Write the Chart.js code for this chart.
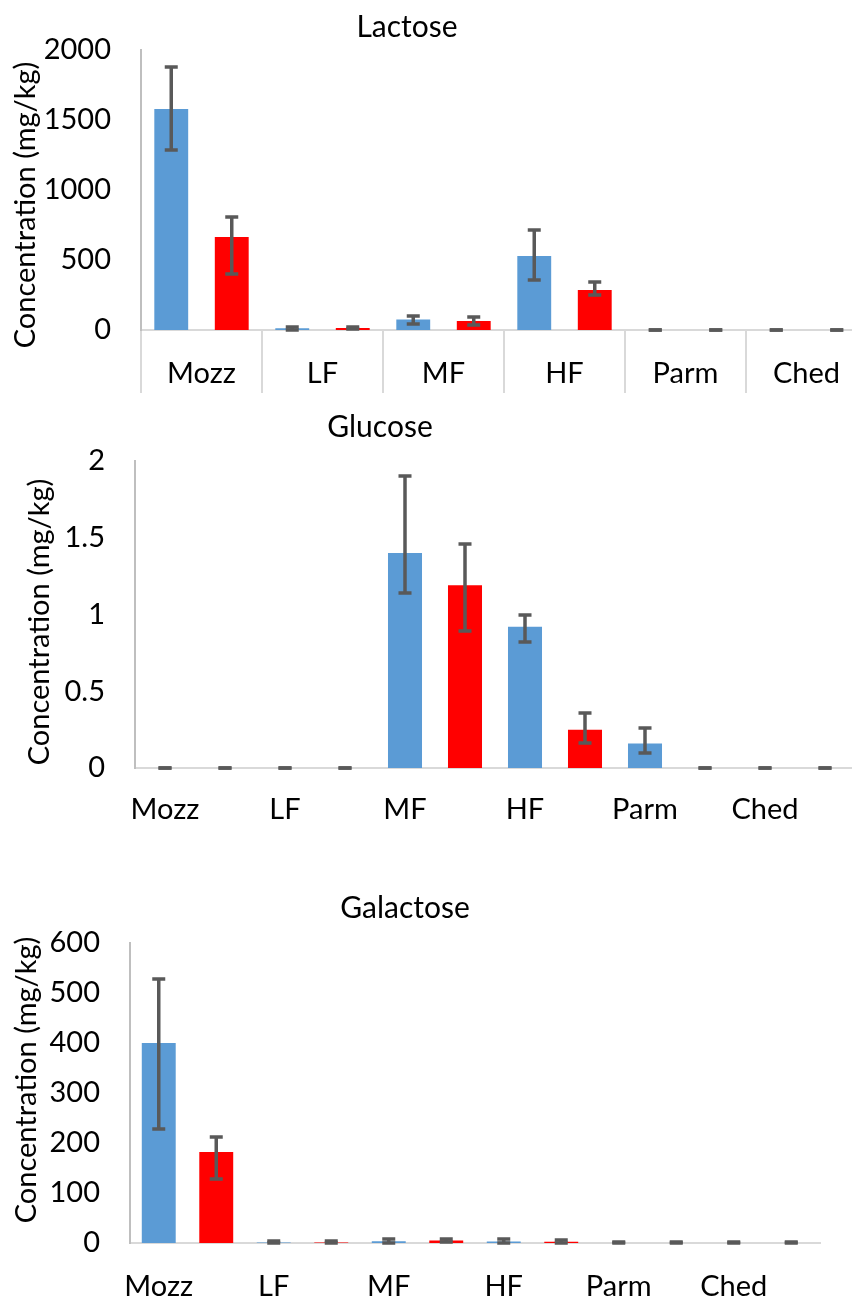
<!DOCTYPE html>
<html>
<head>
<meta charset="utf-8">
<script src="https://cdn.jsdelivr.net/npm/chart.js@4.4.1/dist/chart.umd.min.js"></script>
<style>
  html, body { margin: 0; padding: 0; background: #fff; overflow: hidden; width: 852px; height: 1298px; }
  canvas { position: absolute; left: 0; }
</style>
</head>
<body>
<canvas id="lactose" width="870" height="400" style="top:0px"></canvas>
<canvas id="glucose" width="870" height="440" style="top:400px"></canvas>
<canvas id="galactose" width="852" height="418" style="top:880px"></canvas>
<script>
// cheese types
const categories = ["Mozz", "LF", "MF", "HF", "Parm", "Ched"];

// Lactose (mg/kg) - blue / red series, error bar ends
const lactoseBlue   = [1578, 12, 75, 528, 0, 0];
const lactoseBlueHi = [1876, 25, 100, 714, 3, 3];
const lactoseBlueLo = [1288, 2, 45, 357, 0, 0];
const lactoseRed    = [664, 14, 65, 286, 0, 0];
const lactoseRedHi  = [809, 22, 90, 345, 3, 3];
const lactoseRedLo  = [398, 5, 36, 250, 0, 0];
const lactoseTicks  = [0, 500, 1000, 1500, 2000];

// Glucose (mg/kg)
const glucoseBlue   = [0, 0, 1.4, 0.92, 0.16, 0];
const glucoseBlueHi = [0, 0, 1.9, 1.0, 0.26, 0];
const glucoseBlueLo = [0, 0, 1.14, 0.82, 0.1, 0];
const glucoseRed    = [0, 0, 1.19, 0.25, 0, 0];
const glucoseRedHi  = [0, 0, 1.46, 0.36, 0, 0];
const glucoseRedLo  = [0, 0, 0.89, 0.16, 0, 0];
const glucoseTicks  = [0, 0.5, 1, 1.5, 2];

// Galactose (mg/kg)
const galactoseBlue   = [400, 1, 3.5, 3, 0, 0];
const galactoseBlueHi = [528, 5, 8.5, 9, 1.5, 1.5];
const galactoseBlueLo = [228, 0, 0.5, 0, 0, 0];
const galactoseRed    = [182, 1, 5, 2.5, 0, 0];
const galactoseRedHi  = [212, 3.5, 8, 6, 1.5, 1.5];
const galactoseRedLo  = [128, 0, 2, 0, 0, 0];
const galactoseTicks  = [0, 100, 200, 300, 400, 500, 600];

const BLUE = "#5b9bd5", RED = "#ff0000", ERR = "#595959";
const FONT = "Lato, 'Noto Sans', sans-serif";

// error bars with caps
const errorBars = {
  id: "errorBars",
  afterDatasetsDraw(chart) {
    const ctx = chart.ctx, y = chart.scales.y;
    ctx.save();
    ctx.fillStyle = ERR;
    chart.data.datasets.forEach((ds, i) => {
      chart.getDatasetMeta(i).data.forEach((bar, j) => {
        const t = Math.round(y.getPixelForValue(ds.errHi[j]));
        const b = Math.round(y.getPixelForValue(ds.errLo[j]));
        const x = bar.x;
        ctx.fillRect(x - 1.75, t, 3.5, b - t);
        ctx.fillRect(x - 6.5, t - 1.75, 13, 3.5);
        ctx.fillRect(x - 6.5, b - 1.75, 13, 3.5);
      });
    });
    ctx.restore();
  }
};

// chart title and rotated axis title
const texts = {
  id: "texts",
  afterDraw(chart, args, o) {
    const ctx = chart.ctx;
    ctx.save();
    ctx.fillStyle = "#000";
    ctx.textAlign = "center";
    ctx.textBaseline = "middle";
    ctx.font = o.titleFont;
    ctx.fillText(o.title, o.tx, o.ty);
    ctx.font = o.yFont;
    ctx.translate(o.yx, o.yy);
    ctx.rotate(-Math.PI / 2);
    ctx.fillText(o.ytitle, 0, 0);
    ctx.restore();
  }
};

function makeChart(id, c) {
  const canvas = document.getElementById(id);
  const H = canvas.height, W = canvas.width;
  new Chart(canvas, {
    type: "bar",
    data: {
      labels: categories,
      datasets: [
        { data: c.blue, errHi: c.blueHi, errLo: c.blueLo, backgroundColor: BLUE },
        { data: c.red, errHi: c.redHi, errLo: c.redLo, backgroundColor: RED }
      ]
    },
    options: {
      responsive: false,
      animation: false,
      devicePixelRatio: 1,
      layout: { padding: { top: c.top, right: W - c.right, left: 0, bottom: 0 } },
      datasets: { bar: { categoryPercentage: 1, barPercentage: c.barPct } },
      plugins: {
        legend: { display: false },
        tooltip: { enabled: false },
        texts: {
          title: c.title, tx: c.tx, ty: c.ty, titleFont: "30px " + FONT,
          ytitle: "Concentration (mg/kg)", yx: c.yx, yy: c.yy, yFont: "29px " + FONT
        }
      },
      scales: {
        x: {
          afterFit(s) { s.height = H - c.base; },
          grid: {
            display: true, offset: true, drawOnChartArea: false, drawTicks: true,
            tickLength: 63, lineWidth: 2,
            color: c.dividers ? "#d9d9d9" : "rgba(0,0,0,0)"
          },
          border: { display: true, color: "#d9d9d9", width: 2 },
          ticks: {
            autoSkip: false, maxRotation: 0, color: "#000",
            font: { family: FONT, size: 29 },
            padding: c.labelPad, labelOffset: c.labelOffset
          }
        },
        y: {
          min: c.ticks[0], max: c.ticks[c.ticks.length - 1],
          afterFit(s) { s.width = c.left; },
          afterBuildTicks(s) { s.ticks = c.ticks.map(v => ({ value: v })); },
          grid: { display: false, drawTicks: false },
          border: { display: true, color: "#bfbfbf", width: 2 },
          ticks: {
            color: "#000", font: { family: FONT, size: 29 }, padding: 30,
            callback: v => String(v)
          }
        }
      }
    },
    plugins: [errorBars, texts]
  });
}

makeChart("lactose", {
  title: "Lactose", tx: 407, ty: 27, yx: 26, yy: 205,
  blue: lactoseBlue, blueHi: lactoseBlueHi, blueLo: lactoseBlueLo,
  red: lactoseRed, redHi: lactoseRedHi, redLo: lactoseRedLo,
  ticks: lactoseTicks, left: 141, right: 867, top: 50, base: 330,
  barPct: 0.56, dividers: true, labelPad: -37, labelOffset: 0
});

makeChart("glucose", {
  title: "Glucose", tx: 380, ty: 27, yx: 40, yy: 222,
  blue: glucoseBlue, blueHi: glucoseBlueHi, blueLo: glucoseBlueLo,
  red: glucoseRed, redHi: glucoseRedHi, redLo: glucoseRedLo,
  ticks: glucoseTicks, left: 135, right: 855, top: 61, base: 368,
  barPct: 0.567, dividers: false, labelPad: -39, labelOffset: -30
});

makeChart("galactose", {
  title: "Galactose", tx: 405, ty: 28, yx: 27, yy: 200,
  blue: galactoseBlue, blueHi: galactoseBlueHi, blueLo: galactoseBlueLo,
  red: galactoseRed, redHi: galactoseRedHi, redLo: galactoseRedLo,
  ticks: galactoseTicks, left: 130, right: 820, top: 63, base: 363,
  barPct: 0.59, dividers: false, labelPad: -37, labelOffset: -28.75
});
</script>
</body>
</html>
